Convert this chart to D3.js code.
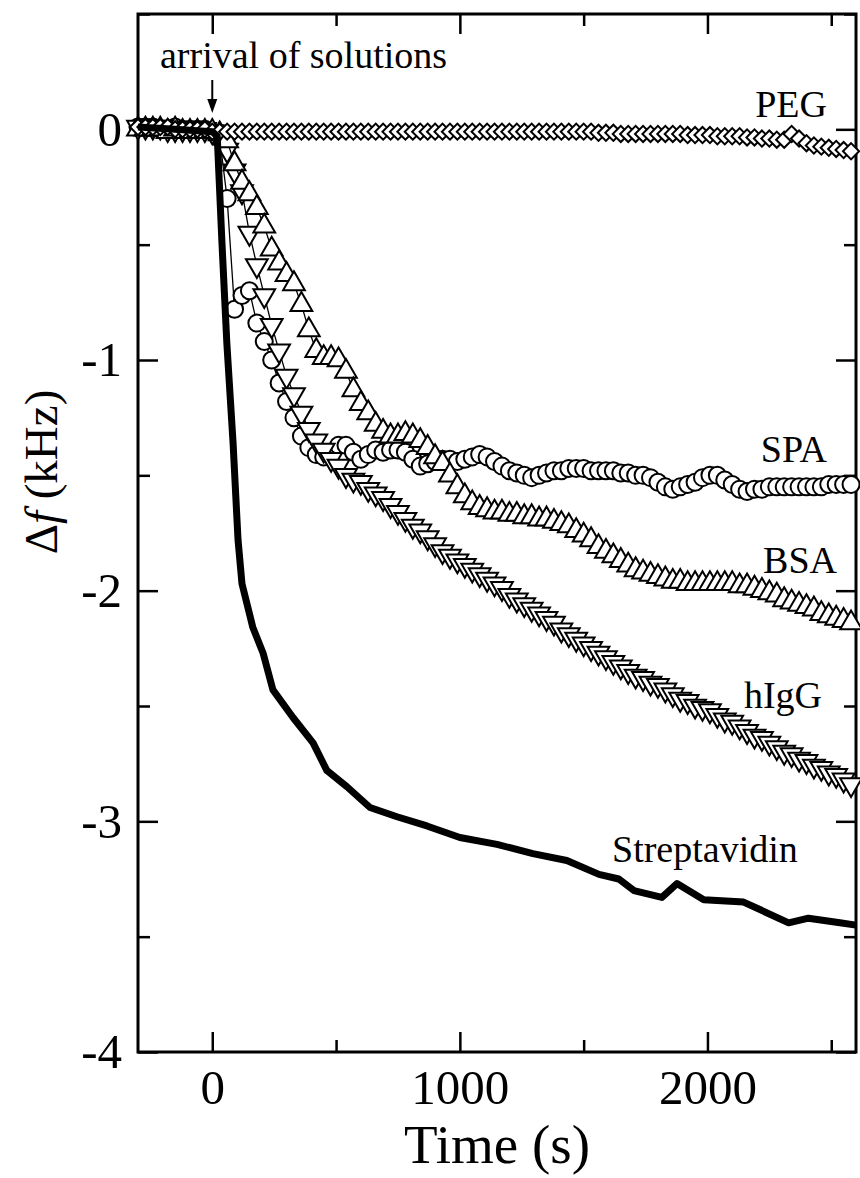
<!DOCTYPE html>
<html>
<head>
<meta charset="utf-8">
<script src="https://cdn.jsdelivr.net/npm/d3@7"></script>
<style>
  body { margin: 0; background: #fff; }
  svg text { font-family: "Liberation Serif", "Times New Roman", serif; fill: #000; }
</style>
</head>
<body>
<svg id="chart" width="860" height="1178"></svg>
<script>
// sampling times (s) shared by the marker series
const times = [
  -300, -270, -240, -210, -180, -150, -120, -90, -60, -30,
  0, 30, 60, 90, 120, 150, 180, 210, 240, 270,
  300, 330, 360, 390, 420, 450, 480, 510, 540, 570,
  600, 630, 660, 690, 720, 750, 780, 810, 840, 870,
  900, 930, 960, 990, 1020, 1050, 1080, 1110, 1140, 1170,
  1200, 1230, 1260, 1290, 1320, 1350, 1380, 1410, 1440, 1470,
  1500, 1530, 1560, 1590, 1620, 1650, 1680, 1710, 1740, 1770,
  1800, 1830, 1860, 1890, 1920, 1950, 1980, 2010, 2040, 2070,
  2100, 2130, 2160, 2190, 2220, 2250, 2280, 2310, 2340, 2370,
  2400, 2430, 2460, 2490, 2520, 2550, 2580
];

// delta f (kHz)
const spa = [
  0.01, 0.01, 0.01, 0.00, 0.00, 0.01, 0.00, 0.00, 0.00, 0.00,
  -0.01, -0.04, -0.30, -0.78, -0.72, -0.70, -0.84, -0.92, -1.00, -1.10,
  -1.18, -1.25, -1.33, -1.38, -1.41, -1.42, -1.40, -1.37, -1.37, -1.40,
  -1.43, -1.41, -1.39, -1.40, -1.39, -1.39, -1.40, -1.43, -1.46, -1.45,
  -1.44, -1.43, -1.43, -1.44, -1.43, -1.42, -1.41, -1.42, -1.44, -1.46,
  -1.48, -1.49, -1.50, -1.51, -1.50, -1.49, -1.48, -1.48, -1.47, -1.47,
  -1.47, -1.48, -1.48, -1.48, -1.48, -1.49, -1.49, -1.50, -1.50, -1.51,
  -1.53, -1.55, -1.56, -1.55, -1.54, -1.53, -1.51, -1.50, -1.50, -1.52,
  -1.54, -1.56, -1.57, -1.56, -1.56, -1.55, -1.55, -1.55, -1.55, -1.55,
  -1.55, -1.55, -1.55, -1.54, -1.54, -1.54, -1.54
];

const bsa = [
  0.00, 0.00, 0.00, 0.00, -0.01, 0.00, -0.01, -0.01, -0.01, -0.01,
  -0.01, -0.02, -0.05, -0.15, -0.23, -0.28, -0.34, -0.42, -0.52, -0.58,
  -0.63, -0.67, -0.76, -0.87, -0.96, -0.99, -0.99, -1.00, -1.05, -1.13,
  -1.19, -1.23, -1.28, -1.31, -1.33, -1.33, -1.32, -1.33, -1.35, -1.38,
  -1.42, -1.45, -1.50, -1.55, -1.59, -1.62, -1.64, -1.65, -1.66, -1.66,
  -1.67, -1.67, -1.68, -1.68, -1.69, -1.69, -1.70, -1.71, -1.72, -1.74,
  -1.76, -1.78, -1.81, -1.83, -1.85, -1.87, -1.89, -1.91, -1.92, -1.93,
  -1.94, -1.95, -1.96, -1.96, -1.97, -1.97, -1.97, -1.97, -1.97, -1.97,
  -1.97, -1.98, -1.98, -1.99, -2.00, -2.01, -2.02, -2.04, -2.05, -2.06,
  -2.07, -2.08, -2.10, -2.11, -2.12, -2.13, -2.14
];

const higg = [
  0.01, 0.01, 0.01, 0.01, 0.00, 0.00, 0.00, 0.00, 0.00, 0.00,
  -0.01, -0.03, -0.09, -0.18, -0.27, -0.45, -0.59, -0.72, -0.85, -0.96,
  -1.07, -1.15, -1.23, -1.30, -1.35, -1.39, -1.43, -1.46, -1.50, -1.52,
  -1.53, -1.56, -1.58, -1.60, -1.63, -1.66, -1.69, -1.72, -1.74, -1.77,
  -1.80, -1.83, -1.85, -1.87, -1.89, -1.91, -1.93, -1.95, -1.97, -1.99,
  -2.02, -2.04, -2.06, -2.08, -2.10, -2.12, -2.14, -2.17, -2.19, -2.21,
  -2.23, -2.25, -2.27, -2.29, -2.31, -2.33, -2.35, -2.37, -2.38, -2.40,
  -2.41, -2.43, -2.45, -2.47, -2.48, -2.50, -2.51, -2.52, -2.54, -2.56,
  -2.57, -2.59, -2.61, -2.63, -2.64, -2.66, -2.68, -2.70, -2.71, -2.73,
  -2.74, -2.76, -2.77, -2.79, -2.80, -2.82, -2.84
];

const peg = [
  0.01, 0.01, 0.01, 0.01, 0.01, 0.00, 0.00, 0.00, 0.00, 0.00,
  -0.01, -0.01, -0.01, -0.01, -0.01, -0.01, -0.01, -0.01, -0.01, -0.01,
  -0.01, -0.01, -0.01, -0.01, -0.01, -0.01, -0.01, -0.01, -0.01, -0.01,
  -0.01, -0.01, -0.01, -0.01, -0.01, -0.01, -0.01, -0.01, -0.01, -0.01,
  -0.01, -0.01, -0.01, -0.01, -0.01, -0.01, -0.01, -0.01, -0.01, -0.01,
  -0.01, -0.01, -0.01, -0.01, -0.01, -0.01, -0.01, -0.01, -0.01, -0.01,
  -0.01, -0.01, -0.015, -0.015, -0.015, -0.02, -0.02, -0.02, -0.02, -0.02,
  -0.02, -0.02, -0.02, -0.02, -0.025, -0.025, -0.025, -0.025, -0.03, -0.03,
  -0.03, -0.03, -0.035, -0.035, -0.04, -0.04, -0.045, -0.045, -0.02, -0.04,
  -0.06, -0.07, -0.075, -0.08, -0.085, -0.09, -0.095
];

// streptavidin is drawn as a plain thick line
const streptTimes = [-300, -150, 0, 20, 39, 59, 84, 104, 120, 164, 205, 245, 326, 407, 463, 544,
  637, 746, 867, 1000, 1150, 1295, 1432, 1562, 1642, 1703, 1816, 1877, 1985, 2146, 2328, 2408, 2535, 2600];
const streptValues = [0.01, 0.00, -0.01, -0.03, -0.49, -0.93, -1.36, -1.78, -1.97, -2.16, -2.27, -2.43, -2.55, -2.66, -2.78, -2.85,
  -2.94, -2.98, -3.02, -3.07, -3.10, -3.14, -3.17, -3.23, -3.25, -3.30, -3.33, -3.27, -3.34, -3.35, -3.44, -3.42, -3.44, -3.45];

const majorX = [0, 1000, 2000];
const minorX = [500, 1500, 2500];
const majorY = [0, -1, -2, -3, -4];
const minorY = [0.5, -0.5, -1.5, -2.5, -3.5];

const plotLeft = 138;
const plotRight = 856;
const plotTop = 14;
const plotBottom = 1052;

const svg = d3.select('#chart');

const x = d3.scaleLinear().domain([-300, 2600]).range([plotLeft, plotRight]);
const y = d3.scaleLinear().domain([-4, 0.5]).range([plotBottom, plotTop]);

// frame
svg.append('rect')
  .attr('x', plotLeft).attr('y', plotTop)
  .attr('width', plotRight - plotLeft).attr('height', plotBottom - plotTop)
  .attr('fill', 'none').attr('stroke', '#000').attr('stroke-width', 3);

const styleAxis = (g, fontSize) => {
  g.attr('font-family', null);
  g.select('.domain').remove();
  g.selectAll('line').attr('stroke', '#000').attr('stroke-width', 2.5);
  g.selectAll('text').attr('font-size', fontSize).attr('fill', '#000')
    .style('font-family', '"Liberation Serif", "Times New Roman", serif');
};

svg.append('g').attr('transform', `translate(0,${plotBottom})`)
  .call(d3.axisBottom(x).tickValues(majorX).tickSize(-20).tickPadding(17).tickFormat(d => String(d)))
  .call(g => styleAxis(g, 49));
svg.append('g').attr('transform', `translate(0,${plotBottom})`)
  .call(d3.axisBottom(x).tickValues(minorX).tickSize(-12).tickFormat(''))
  .call(g => styleAxis(g, 49));
svg.append('g').attr('transform', `translate(0,${plotTop})`)
  .call(d3.axisTop(x).tickValues(majorX).tickSize(-20).tickFormat(''))
  .call(g => styleAxis(g, 49));
svg.append('g').attr('transform', `translate(0,${plotTop})`)
  .call(d3.axisTop(x).tickValues(minorX).tickSize(-12).tickFormat(''))
  .call(g => styleAxis(g, 49));

svg.append('g').attr('transform', `translate(${plotLeft},0)`)
  .call(d3.axisLeft(y).tickValues(majorY).tickSize(-20).tickPadding(16).tickFormat(d => String(d)))
  .call(g => styleAxis(g, 49));
svg.append('g').attr('transform', `translate(${plotLeft},0)`)
  .call(d3.axisLeft(y).tickValues(minorY).tickSize(-12).tickFormat(''))
  .call(g => styleAxis(g, 49));
svg.append('g').attr('transform', `translate(${plotRight},0)`)
  .call(d3.axisRight(y).tickValues(majorY).tickSize(-20).tickFormat(''))
  .call(g => styleAxis(g, 49));
svg.append('g').attr('transform', `translate(${plotRight},0)`)
  .call(d3.axisRight(y).tickValues(minorY).tickSize(-12).tickFormat(''))
  .call(g => styleAxis(g, 49));

// axis titles
svg.append('text')
  .attr('x', (plotLeft + plotRight) / 2).attr('y', 1163)
  .attr('text-anchor', 'middle').attr('font-size', 55)
  .text('Time (s)');

const yTitle = svg.append('text')
  .attr('transform', 'translate(57,472) rotate(-90)')
  .attr('text-anchor', 'middle').attr('font-size', 47);
yTitle.append('tspan').text('Δ');
yTitle.append('tspan').attr('font-style', 'italic').text('f');
yTitle.append('tspan').text(' (kHz)');

// marker series
const series = [
  { name: 'SPA', values: spa, symbol: d3.symbolCircle, size: Math.PI * 8.5 * 8.5, rotate: 0 },
  { name: 'hIgG', values: higg, symbol: d3.symbolTriangle, size: 205, rotate: 180 },
  { name: 'BSA', values: bsa, symbol: d3.symbolTriangle, size: 205, rotate: 0 },
  { name: 'PEG', values: peg, symbol: d3.symbolSquare, size: 130, rotate: 45 }
];

const line = d3.line().x(d => x(d[0])).y(d => y(d[1]));

series.forEach(s => {
  const pts = times.map((t, i) => [t, s.values[i]]);
  const g = svg.append('g').attr('class', 'series');
  g.append('path')
    .datum(pts)
    .attr('d', line)
    .attr('fill', 'none')
    .attr('stroke', '#000')
    .attr('stroke-width', 1.3);
  g.selectAll('path.marker')
    .data(pts)
    .enter()
    .append('path')
    .attr('class', 'marker')
    .attr('d', d3.symbol().type(s.symbol).size(s.size))
    .attr('transform', d => `translate(${x(d[0])},${y(d[1])}) rotate(${s.rotate})`)
    .attr('fill', '#fff')
    .attr('stroke', '#000')
    .attr('stroke-width', 2);
});

svg.append('path')
  .datum(streptTimes.map((t, i) => [t, streptValues[i]]))
  .attr('d', line)
  .attr('fill', 'none')
  .attr('stroke', '#000')
  .attr('stroke-width', 7)
  .attr('stroke-linejoin', 'round');

// series labels
const labels = [
  { text: 'PEG', x: 827, y: 117, anchor: 'end' },
  { text: 'SPA', x: 827, y: 462, anchor: 'end' },
  { text: 'BSA', x: 837, y: 573, anchor: 'end' },
  { text: 'hIgG', x: 822, y: 708, anchor: 'end' },
  { text: 'Streptavidin', x: 612, y: 862, anchor: 'start' }
];
svg.selectAll('text.label')
  .data(labels)
  .enter()
  .append('text')
  .attr('class', 'label')
  .attr('x', d => d.x).attr('y', d => d.y)
  .attr('text-anchor', d => d.anchor)
  .attr('font-size', 38)
  .text(d => d.text);

// annotation
svg.append('text')
  .attr('x', 160).attr('y', 68)
  .attr('font-size', 38)
  .text('arrival of solutions');
svg.append('line')
  .attr('x1', x(0)).attr('x2', x(0))
  .attr('y1', 80).attr('y2', 101)
  .attr('stroke', '#000').attr('stroke-width', 2);
svg.append('path')
  .attr('d', `M${x(0) - 5},99L${x(0) + 5},99L${x(0)},113Z`)
  .attr('fill', '#000');
</script>
</body>
</html>
